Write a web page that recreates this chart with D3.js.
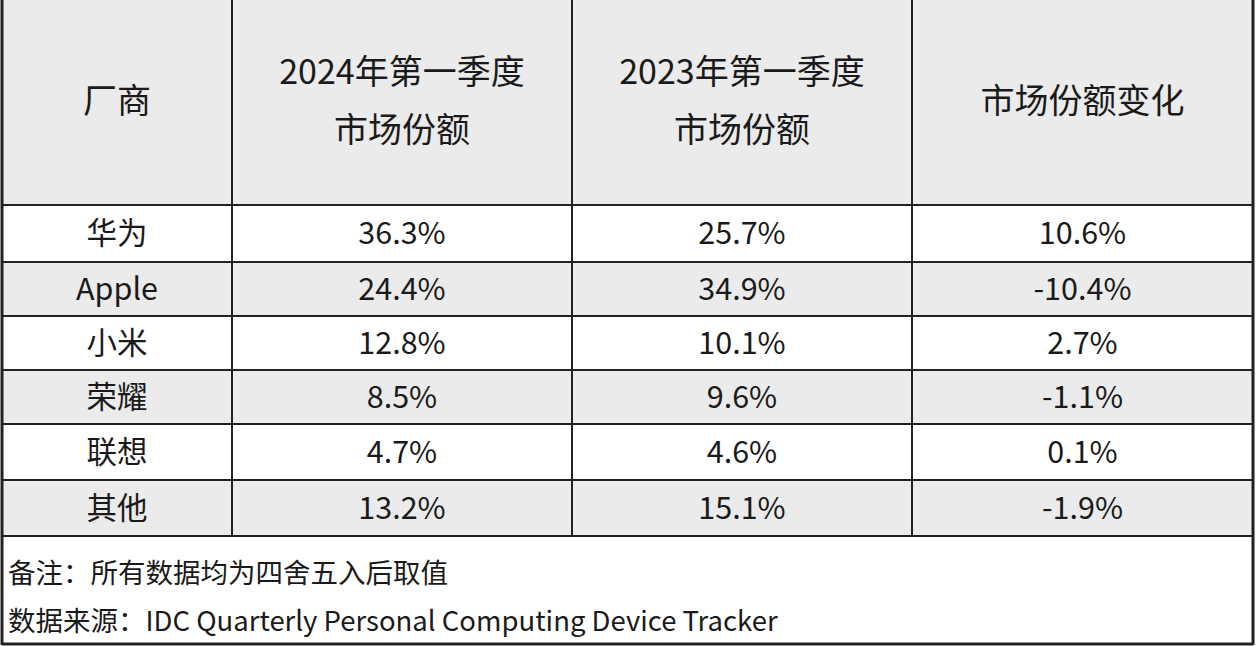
<!DOCTYPE html>
<html><head><meta charset="utf-8">
<script src="https://cdn.jsdelivr.net/npm/d3@7"></script>
<style>body{margin:0;background:#fff}svg{display:block}</style>
</head><body><svg id="c" width="1256" height="646"></svg>
<script>
const headers = [["厂商"],["2024年第一季度","市场份额"],["2023年第一季度","市场份额"],["市场份额变化"]];
const vendors = ["华为","Apple","小米","荣耀","联想","其他"];
const share2024 = ["36.3%","24.4%","12.8%","8.5%","4.7%","13.2%"];
const share2023 = ["25.7%","34.9%","10.1%","9.6%","4.6%","15.1%"];
const change = ["10.6%","-10.4%","2.7%","-1.1%","0.1%","-1.9%"];
const notes = ["备注：所有数据均为四舍五入后取值","数据来源：IDC Quarterly Personal Computing Device Tracker"];

const svg = d3.select("#c");
const font = "'Noto Sans CJK SC','Noto Sans',sans-serif";
const colX = [2,232,572,912,1253];
const rowY = [205,262,316,370,424,480,536];
const gray = "#ebebeb";

svg.append("rect").attr("x",colX[0]).attr("y",0).attr("width",colX[4]-colX[0]).attr("height",rowY[0]).attr("fill",gray);
vendors.forEach((v,i)=>{
  svg.append("rect").attr("x",colX[0]).attr("y",rowY[i]).attr("width",colX[4]-colX[0]).attr("height",rowY[i+1]-rowY[i]).attr("fill",i%2?gray:"#fff");
});
headers.forEach((h,j)=>{
  const cx=(colX[j]+colX[j+1])/2;
  const n=h.length;
  h.forEach((t,k)=>{
    svg.append("text").attr("x",cx).attr("y",101+(k-(n-1)/2)*58).attr("dy","0.35em")
      .attr("text-anchor","middle").attr("font-family",font).attr("font-size",34).attr("fill","#1a1a1a").text(t);
  });
});
const cols=[vendors,share2024,share2023,change];
cols.forEach((arr,j)=>{
  arr.forEach((t,i)=>{
    svg.append("text").attr("x",(colX[j]+colX[j+1])/2).attr("y",(rowY[i]+rowY[i+1])/2).attr("dy","0.35em")
      .attr("text-anchor","middle").attr("font-family",font).attr("font-size",30.5).attr("fill","#1a1a1a").text(t);
  });
});
notes.forEach((t,i)=>{
  svg.append("text").attr("x",8).attr("y",573+i*48).attr("dy","0.35em").attr("font-family",font).attr("font-size",27.5).attr("fill","#1a1a1a").text(t);
});
const ln=(x1,y1,x2,y2,w)=>svg.append("line").attr("x1",x1).attr("y1",y1).attr("x2",x2).attr("y2",y2).attr("stroke","#222").attr("stroke-width",w||2);
colX.slice(1,4).forEach(x=>ln(x,0,x,rowY[6]));
rowY.forEach(y=>ln(colX[0],y,colX[4],y));
ln(colX[0],0,colX[0],645,3);ln(colX[4],0,colX[4],645,3);ln(colX[0],644,colX[4],644,3);
</script></body></html>
